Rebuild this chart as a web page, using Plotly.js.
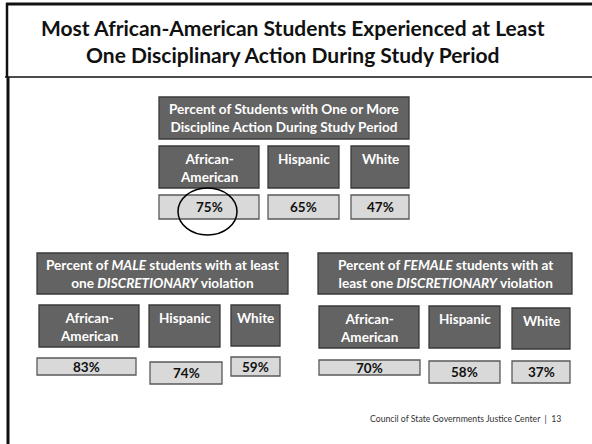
<!DOCTYPE html>
<html><head><meta charset="utf-8">
<script src="https://cdn.plot.ly/plotly-3.0.1.min.js"></script>
<style>html,body{margin:0;padding:0;background:#fff}#chart{width:592px;height:444px}</style>
</head><body><div id="chart"></div>
<script>
// ---- data ----
const slideTitle = 'Most African-American Students Experienced at Least<br>One Disciplinary Action During Study Period';
const panelTitles = [
  'Percent of Students with One or More<br>Discipline Action During Study Period',
  'Percent of <i>MALE</i> students with at least<br>one <i>DISCRETIONARY</i> violation',
  'Percent of <i>FEMALE</i> students with at<br>least one <i>DISCRETIONARY</i> violation'
];
const categories = ['African-<br>American', 'Hispanic', 'White'];
const allStudentsPct = [75, 65, 47];
const malePct = [83, 74, 59];
const femalePct = [70, 58, 37];
const footer = 'Council of State Governments Justice Center  |  13';

// ---- layout geometry (pixel space of the slide) ----
const panels = [
  {values: allStudentsPct, head: [159, 409, 97, 139],
   cats: [[159, 259, 146, 188], [268, 339, 146, 188], [351, 409, 146, 188]],
   vals: [[159, 259, 195, 219], [268, 339, 195, 219], [351, 409, 195, 219]]},
  {values: malePct, head: [37, 288, 253, 294],
   cats: [[39, 139, 305, 347], [149, 220, 305, 347], [231, 280, 305, 346]],
   vals: [[37, 136, 358, 375], [150, 222, 362, 384], [231, 280, 357, 376]]},
  {values: femalePct, head: [318, 572, 253, 294],
   cats: [[319, 419, 306, 348], [429, 500, 306, 348], [512, 570, 308, 349]],
   vals: [[319, 420, 360, 375], [429, 500, 361, 383], [512, 570, 361, 383]]}
];

const FONT = 'Lato, "Open Sans", sans-serif';
const DARK = '#636363', DARK_LINE = '#3a3a3a', LIGHT = '#d9d9d9', LIGHT_LINE = '#595959';
const shapes = [], annotations = [];

function rect(b, fill, line) {
  shapes.push({type: 'rect', xref: 'x', yref: 'y', x0: b[0], x1: b[1], y0: b[2], y1: b[3],
    fillcolor: fill, line: {color: line, width: 1.3}, layer: 'below'});
}
function label(x, y, text, opts) {
  annotations.push(Object.assign({xref: 'x', yref: 'y', x: x, y: y, text: text, showarrow: false,
    xanchor: 'center', yanchor: 'middle', align: 'center',
    font: {family: FONT, size: 13.6, color: '#ffffff'}}, opts || {}));
}

panels.forEach((p, i) => {
  rect(p.head, DARK, DARK_LINE);
  label((p.head[0] + p.head[1]) / 2, (p.head[2] + p.head[3]) / 2, '<b>' + panelTitles[i] + '</b>');
  categories.forEach((c, j) => {
    const cb = p.cats[j];
    rect(cb, DARK, DARK_LINE);
    label((cb[0] + cb[1]) / 2, cb[2] + 3, '<b>' + c + '</b>', {yanchor: 'top', font: {family: FONT, size: 13.5, color: '#ffffff'}});
    const vb = p.vals[j];
    rect(vb, LIGHT, LIGHT_LINE);
    label((vb[0] + vb[1]) / 2, (vb[2] + vb[3]) / 2, '<b>' + p.values[j] + '%</b>', {font: {family: FONT, size: 13.5, color: '#111111'}});
  });
});

// circle highlight around the first value
shapes.push({type: 'circle', xref: 'x', yref: 'y', x0: 178, x1: 237,
  y0: 188, y1: 235, line: {color: '#000000', width: 1.5}, fillcolor: 'rgba(0,0,0,0)'});

// slide frame
shapes.push({type: 'line', xref: 'x', yref: 'y', x0: 6, x1: 592, y0: 4, y1: 4, line: {color: '#111', width: 3}});
shapes.push({type: 'line', xref: 'x', yref: 'y', x0: 7, x1: 7, y0: 3, y1: 77, line: {color: '#111', width: 2.5}});
shapes.push({type: 'line', xref: 'x', yref: 'y', x0: 5, x1: 592, y0: 77, y1: 77, line: {color: '#111', width: 1.5}});
shapes.push({type: 'line', xref: 'x', yref: 'y', x0: 8, x1: 8, y0: 77, y1: 444, line: {color: '#111', width: 3}});

annotations.push({xref: 'x', yref: 'y', x: 293, y: 41, text: '<b>' + slideTitle + '</b>', showarrow: false,
  xanchor: 'center', yanchor: 'middle', align: 'center', font: {family: FONT, size: 21, color: '#111111'}});
annotations.push({xref: 'x', yref: 'y', x: 563, y: 418, text: footer, showarrow: false,
  xanchor: 'right', yanchor: 'middle', font: {family: FONT, size: 8.7, color: '#333333'}});

Plotly.newPlot('chart', [{type: 'scatter', x: [], y: [], hoverinfo: 'skip'}], {
  width: 592, height: 444, margin: {l: 0, r: 0, t: 0, b: 0},
  paper_bgcolor: '#ffffff', plot_bgcolor: '#ffffff', showlegend: false,
  xaxis: {range: [0, 592], visible: false, fixedrange: true},
  yaxis: {range: [444, 0], visible: false, fixedrange: true},
  shapes: shapes, annotations: annotations
}, {staticPlot: true});
</script></body></html>
